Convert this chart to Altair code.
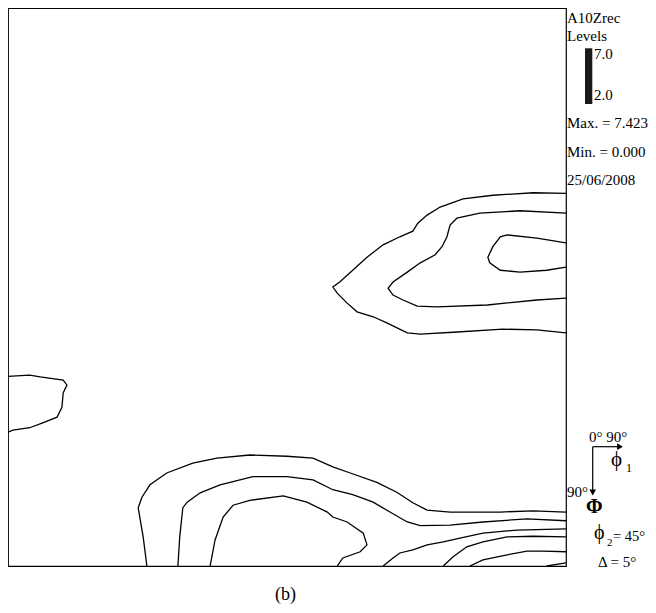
import altair as alt
import pandas as pd

SERIF = "Liberation Serif"

# ---- contour traces: phi1 (deg, left->right), Phi (deg, top->bottom)
top_outer_phi1 = [90, 84.7, 78.2, 73.4, 69.7, 67.6, 66.1, 65.3, 63.2, 60.5, 57.9, 55.6, 53.5, 52.4, 53.1,
                  54.7, 56.3, 58.9, 61.1, 64.4, 66.5, 71.8, 79.8, 85.3, 90]
top_outer_Phi = [29.9, 29.8, 30.2, 30.8, 32.1, 33.4, 34.7, 36.0, 36.9, 38.2, 40.2, 42.3, 44.2, 45.0, 46.0,
                 47.6, 49.0, 49.8, 50.8, 52.4, 52.6, 52.3, 51.8, 51.9, 52.4]

top_mid_phi1 = [90, 82.6, 76.1, 72.4, 71.3, 70.8, 70.0, 68.9, 66.5, 64.4, 62.1, 61.3, 62.1, 63.7, 66.0,
                69.2, 77.3, 85.3, 90]
top_mid_Phi = [33.1, 32.7, 33.1, 33.9, 35.0, 36.9, 38.5, 39.8, 41.1, 42.6, 44.2, 45.2, 46.3, 47.1, 48.1,
               48.2, 47.9, 47.1, 46.8]

top_inner_phi1 = [90, 85.3, 80.5, 79.4, 78.2, 77.4, 77.7, 79.4, 82.6, 86.9, 90]
top_inner_Phi = [37.9, 37.1, 36.6, 36.9, 38.5, 40.2, 41.1, 42.3, 42.6, 42.3, 41.8]

left_phi1 = [0, 3.5, 5.2, 8.9, 9.5, 8.9, 8.7, 7.9, 5.6, 3.5, 0.8, 0]
left_Phi = [59.4, 59.2, 59.5, 60.0, 60.8, 62.1, 64.4, 66.0, 66.9, 67.7, 68.1, 68.4]

bot1_phi1 = [22.4, 21.8, 21.0, 21.6, 22.9, 25.6, 29.8, 33.7, 39.0, 45.0, 49.2, 52.4, 55.2, 59.5, 62.7,
             65.3, 67.6, 71.3, 79.4, 84.7, 90]
bot1_Phi = [90, 85.3, 80.6, 78.9, 76.9, 75.0, 73.4, 72.6, 72.1, 72.3, 72.6, 74.0, 75.0, 76.5, 78.1,
            79.8, 81.0, 81.3, 81.3, 81.1, 81.3]

bot2_phi1 = [27.4, 27.7, 28.2, 28.9, 31.0, 34.2, 39.5, 45.0, 49.2, 52.4, 55.6, 58.9, 61.6, 64.4, 66.5,
             71.3, 76.6, 83.7, 90]
bot2_Phi = [90, 85.3, 80.6, 79.7, 78.2, 76.9, 75.6, 75.6, 76.1, 77.7, 78.5, 79.7, 81.3, 82.9, 83.5,
            83.4, 82.9, 82.4, 82.7]

bot3_phi1 = [32.6, 33.4, 34.7, 36.3, 39.0, 44.4, 48.2, 51.5, 52.4, 54.7, 57.3, 57.9, 56.8, 54.0, 53.1]
bot3_Phi = [90, 85.8, 82.1, 80.2, 79.4, 78.7, 79.7, 81.3, 82.1, 82.9, 84.7, 86.6, 87.7, 88.7, 90]

bot4_phi1 = [60.5, 62.1, 63.2, 65.3, 67.6, 70.2, 72.9, 76.6, 82.1, 90]
bot4_Phi = [90, 88.7, 87.9, 87.4, 86.6, 86.1, 85.5, 84.7, 84.2, 84.0]

bot5_phi1 = [70.2, 71.8, 74.0, 76.6, 80.5, 84.7, 90]
bot5_Phi = [90, 88.5, 86.9, 86.1, 85.3, 85.2, 85.3]

bot6_phi1 = [74.5, 76.6, 80.5, 83.7, 86.3, 90]
bot6_Phi = [90, 89.0, 88.2, 87.6, 87.6, 87.7]

bot7_phi1 = [86.9, 90]
bot7_Phi = [90, 89.5]

contours = [
    ("top_outer", top_outer_phi1, top_outer_Phi),
    ("top_mid", top_mid_phi1, top_mid_Phi),
    ("top_inner", top_inner_phi1, top_inner_Phi),
    ("left", left_phi1, left_Phi),
    ("bot1", bot1_phi1, bot1_Phi),
    ("bot2", bot2_phi1, bot2_Phi),
    ("bot3", bot3_phi1, bot3_Phi),
    ("bot4", bot4_phi1, bot4_Phi),
    ("bot5", bot5_phi1, bot5_Phi),
    ("bot6", bot6_phi1, bot6_Phi),
    ("bot7", bot7_phi1, bot7_Phi),
]

rows = []
for name, xs, ys in contours:
    for i, (a, b) in enumerate(zip(xs, ys)):
        rows.append({"contour": name, "idx": i, "phi1": a, "Phi": b})
df = pd.DataFrame(rows)

lines = alt.Chart(df).mark_line(color="black", strokeWidth=1.3, clip=True).encode(
    x=alt.X("phi1:Q", scale=alt.Scale(domain=[0, 90], nice=False, zero=False), axis=None),
    y=alt.Y("Phi:Q", scale=alt.Scale(domain=[0, 90], reverse=True, nice=False, zero=False), axis=None),
    detail="contour:N",
    order="idx:Q",
)

one = pd.DataFrame({"k": [0]})


def label(txt, x, y, size=15, weight="normal"):
    return alt.Chart(one).mark_text(
        font=SERIF, fontSize=size, fontWeight=weight, align="left",
        baseline="alphabetic", color="black"
    ).encode(text=alt.value(txt), x=alt.value(x), y=alt.value(y))


layers = [lines]
layers += [
    label("A10Zrec", 559, 14.5),
    label("Levels", 559, 32.7),
    label("7.0", 586, 51.3),
    label("2.0", 586, 92),
    label("Max. = 7.423", 559, 120.3),
    label("Min. = 0.000", 559, 148.7),
    label("25/06/2008", 559, 177),
    label("0° 90°", 581, 433.7, 15),
    label("ϕ", 603, 458, 21),
    label("1", 618, 464, 12),
    label("90°", 559, 489, 15),
    label("Φ", 578, 505, 20, "bold"),
    label("ϕ", 586, 531, 20),
    label("2", 599, 537.5, 11),
    label("= 45°", 605, 533, 14.5),
    label("Δ = 5°", 590, 558.7),
    label("(b)", 267, 592, 18),
]

bar = alt.Chart(one).mark_rect(color="#1a1a1a").encode(
    x=alt.value(577), x2=alt.value(584.3), y=alt.value(40.3), y2=alt.value(96)
)
h_arrow = alt.Chart(one).mark_rule(color="black", strokeWidth=1.2).encode(
    x=alt.value(584.7), x2=alt.value(611), y=alt.value(438.7)
)
v_arrow = alt.Chart(one).mark_rule(color="black", strokeWidth=1.2).encode(
    x=alt.value(584.7), y=alt.value(438.7), y2=alt.value(483)
)
h_head = alt.Chart(one).mark_point(shape="triangle-right", filled=True, color="black", size=45, opacity=1).encode(
    x=alt.value(612), y=alt.value(438.7)
)
v_head = alt.Chart(one).mark_point(shape="triangle-down", filled=True, color="black", size=45, opacity=1).encode(
    x=alt.value(584.7), y=alt.value(484.5)
)
layers += [bar, h_arrow, v_arrow, h_head, v_head]

chart = alt.layer(*layers).properties(
    width=558,
    height=558,
    padding={"left": 0, "top": 0, "right": 82, "bottom": 39},
    autosize=alt.AutoSizeParams(type="none"),
    background="white",
).configure_view(stroke="black", strokeWidth=1.2)

chart.save("out.html", embed_options={"renderer": "svg", "actions": False})
